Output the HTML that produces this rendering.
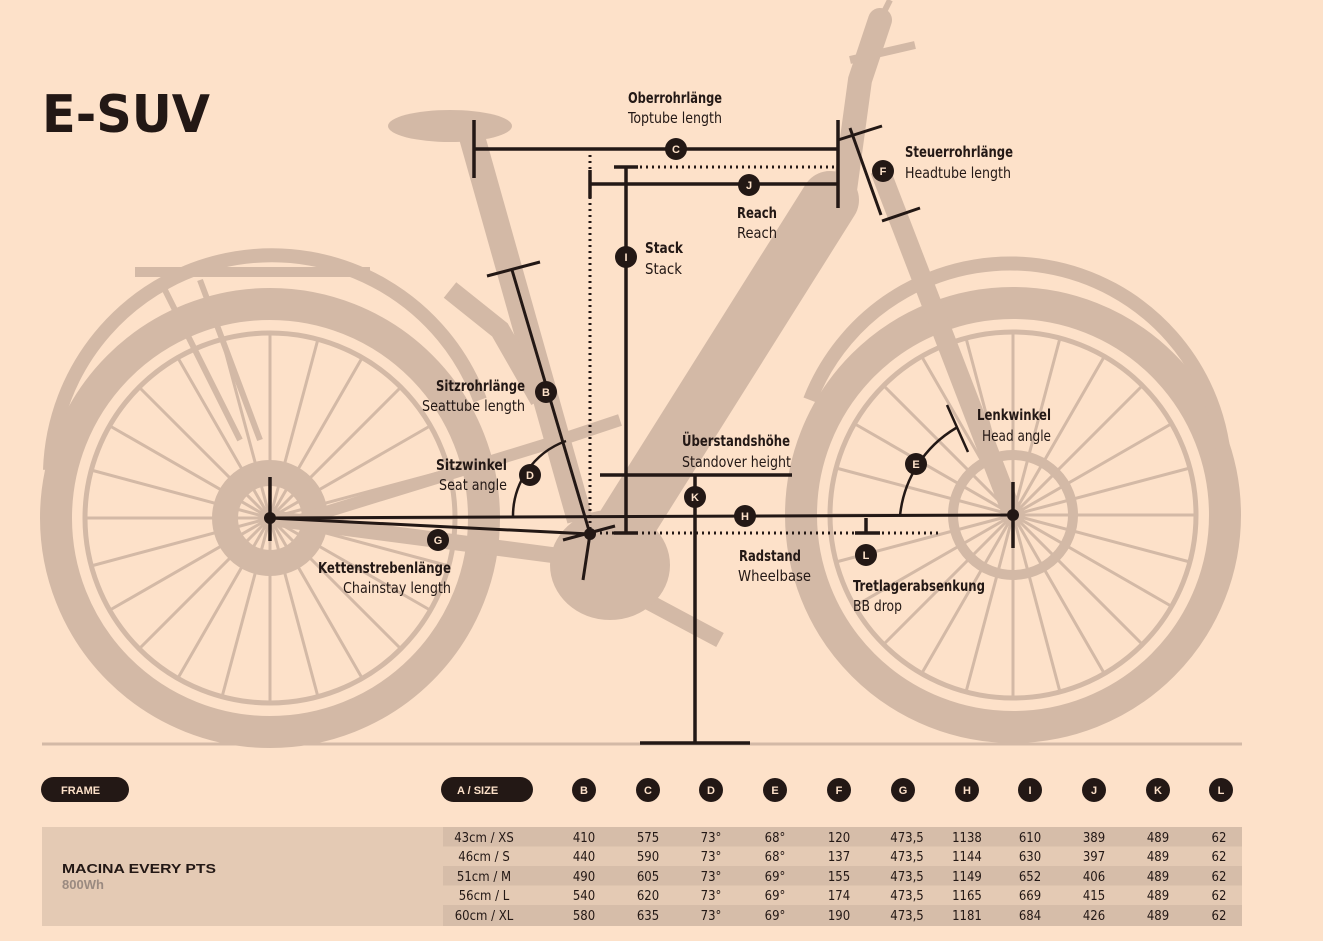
<!DOCTYPE html>
<html><head><meta charset="utf-8"><style>
html,body{margin:0;padding:0;background:#fde1c9;}
svg{display:block}
.b{font-family:"DejaVu Sans Condensed","Liberation Sans",sans-serif;font-weight:bold;font-size:15px;fill:#231815}
.r{font-family:"DejaVu Sans Condensed","Liberation Sans",sans-serif;font-size:15px;fill:#231815}
.t{font-family:"DejaVu Sans Condensed","Liberation Sans",sans-serif;font-size:13px;fill:#231815}
.cl{font-family:"Liberation Sans",sans-serif;font-weight:bold;font-size:11px;fill:#fde1c9}
</style></head><body>
<svg width="1323" height="941" viewBox="0 0 1323 941" xmlns="http://www.w3.org/2000/svg">
<rect width="1323" height="941" fill="#fde1c9"/>
<g fill="none" stroke="#d3b9a6">
 <circle cx="270" cy="518" r="214" stroke-width="32"/>
 <circle cx="1013" cy="515" r="212" stroke-width="32"/>
 <circle cx="270" cy="518" r="185" stroke-width="5"/>
 <circle cx="1013" cy="515" r="183" stroke-width="5"/>
 <g stroke-width="3">
  <path d="M270 518 L270 333 M270 518 L362 358 M270 518 L430 426 M270 518 L455 518 M270 518 L430 610 M270 518 L362 678 M270 518 L270 703 M270 518 L178 678 M270 518 L110 610 M270 518 L85 518 M270 518 L110 426 M270 518 L178 358 M270 518 L318 339 M270 518 L401 387 M270 518 L449 470 M270 518 L449 566 M270 518 L401 649 M270 518 L318 697 M270 518 L222 697 M270 518 L139 649 M270 518 L91 566 M270 518 L91 470 M270 518 L139 387 M270 518 L222 339"/>
  <path d="M1013 515 L1013 332 M1013 515 L1104 357 M1013 515 L1171 424 M1013 515 L1196 515 M1013 515 L1171 606 M1013 515 L1104 673 M1013 515 L1013 698 M1013 515 L922 673 M1013 515 L855 606 M1013 515 L830 515 M1013 515 L855 424 M1013 515 L922 357 M1013 515 L1060 338 M1013 515 L1142 386 M1013 515 L1190 468 M1013 515 L1190 562 M1013 515 L1142 644 M1013 515 L1060 692 M1013 515 L966 692 M1013 515 L884 644 M1013 515 L836 562 M1013 515 L836 468 M1013 515 L884 386 M1013 515 L966 338"/>
 </g>
 <circle cx="270" cy="518" r="45" stroke-width="26"/>
 <circle cx="1013" cy="515" r="60" stroke-width="10"/>
 <path d="M50 470 A222 222 0 0 1 480 400" stroke-width="14"/>
 <path d="M810 400 A215 215 0 0 1 1225 470" stroke-width="14"/>
 <path d="M135 272 L370 272" stroke-width="10"/>
 <path d="M160 280 L240 440 M200 280 L260 440" stroke-width="6"/>
 <path d="M830 200 L610 550" stroke-width="58" stroke-linecap="round"/>
 <path d="M470 130 L580 520" stroke-width="26"/>
 <path d="M300 520 L560 440 L620 420" stroke-width="12"/>
 <path d="M270 518 L590 560" stroke-width="16"/>
 <path d="M880 170 L1013 515" stroke-width="20"/>
 <path d="M845 190 L860 80 L880 20" stroke-width="24" stroke-linecap="round"/>
 <path d="M880 20 L890 0" stroke-width="6"/>
 <path d="M850 60 L915 45" stroke-width="8"/>
 <path d="M570 560 L720 640" stroke-width="16"/>
 <path d="M450 290 L500 330 L540 400" stroke-width="20"/>
</g>
<g fill="#d3b9a6">
 <ellipse cx="450" cy="126" rx="62" ry="16"/>
 <ellipse cx="610" cy="565" rx="60" ry="55"/>
</g>
<line x1="42" y1="744" x2="1242" y2="744" stroke="#d3b9a6" stroke-width="3"/>
<text x="42" y="132" font-family="DejaVu Sans Condensed,Liberation Sans,sans-serif" font-weight="bold" font-size="52" fill="#231815" textLength="168" lengthAdjust="spacingAndGlyphs">E-SUV</text>
<g stroke="#231815" stroke-width="3.5" fill="none">
 <path d="M474 120 V178 M474 149 H838 M838 120 V208"/>
 <path d="M590 170 V198 M590 184 H838"/>
 <path d="M614 167 H638 M626 167 V533 M614 533 H638"/>
 <path d="M850 128 L881 215 M838 140 L882 126 M882 221 L920 208" stroke-width="3"/>
 <path d="M487 276 L540 262 M512 270 L590 534" stroke-width="3"/>
 <path d="M600 475 H792 M695 475 V743 M640 743 H750"/>
 <path d="M270 518 L1013 515" stroke-width="3"/>
 <path d="M270 477 V541 M1013 482 V548"/>
 <path d="M270 518 L590 534 M563 540 L615 526 M590 534 L583 580" stroke-width="3"/>
 <path d="M855 533 H880 M866 518 V533"/>
 <path d="M513 518 A80 80 0 0 1 566 441" stroke-width="2.5"/>
 <path d="M900 516 A115 115 0 0 1 956 428 M947 405 L968 452" stroke-width="2.5"/>
</g>
<g stroke="#231815" stroke-width="3" stroke-dasharray="2 4" fill="none">
 <path d="M590 155 V533"/>
 <path d="M640 167 H838"/>
 <path d="M600 533 H940"/>
</g>
<g fill="#231815">
 <circle cx="270" cy="518" r="6"/><circle cx="1013" cy="515" r="6"/><circle cx="590" cy="534" r="6"/>
</g>
<g fill="#231815">
 <circle cx="676" cy="149" r="11"/><circle cx="749" cy="185" r="11"/><circle cx="626" cy="257" r="11"/>
 <circle cx="883" cy="171" r="11"/><circle cx="546" cy="392" r="11"/><circle cx="530" cy="475" r="11"/>
 <circle cx="695" cy="497" r="11"/><circle cx="745" cy="516" r="11"/><circle cx="916" cy="464" r="11"/>
 <circle cx="438" cy="540" r="11"/><circle cx="866" cy="555" r="11"/>
</g>
<g class="cl" text-anchor="middle">
 <text x="676" y="153">C</text><text x="749" y="189">J</text><text x="626" y="261">I</text>
 <text x="883" y="175">F</text><text x="546" y="396">B</text><text x="530" y="479">D</text>
 <text x="695" y="501">K</text><text x="745" y="520">H</text><text x="916" y="468">E</text>
 <text x="438" y="544">G</text><text x="866" y="559">L</text>
</g>
<g lengthAdjust="spacingAndGlyphs">
<text class="b" x="628" y="103" textLength="94" lengthAdjust="spacingAndGlyphs">Oberrohrlänge</text><text class="r" x="628" y="123" textLength="94" lengthAdjust="spacingAndGlyphs">Toptube length</text>
<text class="b" x="905" y="157" textLength="108" lengthAdjust="spacingAndGlyphs">Steuerrohrlänge</text><text class="r" x="905" y="178" textLength="106" lengthAdjust="spacingAndGlyphs">Headtube length</text>
<text class="b" x="737" y="218" textLength="40" lengthAdjust="spacingAndGlyphs">Reach</text><text class="r" x="737" y="238" textLength="40" lengthAdjust="spacingAndGlyphs">Reach</text>
<text class="b" x="645" y="253" textLength="38" lengthAdjust="spacingAndGlyphs">Stack</text><text class="r" x="645" y="274" textLength="37" lengthAdjust="spacingAndGlyphs">Stack</text>
<text class="b" x="436" y="391" textLength="89" lengthAdjust="spacingAndGlyphs">Sitzrohrlänge</text><text class="r" x="422" y="411" textLength="103" lengthAdjust="spacingAndGlyphs">Seattube length</text>
<text class="b" x="436" y="470" textLength="71" lengthAdjust="spacingAndGlyphs">Sitzwinkel</text><text class="r" x="439" y="490" textLength="68" lengthAdjust="spacingAndGlyphs">Seat angle</text>
<text class="b" x="682" y="446" textLength="108" lengthAdjust="spacingAndGlyphs">Überstandshöhe</text><text class="r" x="682" y="467" textLength="109" lengthAdjust="spacingAndGlyphs">Standover height</text>
<text class="b" x="977" y="420" textLength="74" lengthAdjust="spacingAndGlyphs">Lenkwinkel</text><text class="r" x="982" y="441" textLength="69" lengthAdjust="spacingAndGlyphs">Head angle</text>
<text class="b" x="318" y="573" textLength="133" lengthAdjust="spacingAndGlyphs">Kettenstrebenlänge</text><text class="r" x="343" y="593" textLength="108" lengthAdjust="spacingAndGlyphs">Chainstay length</text>
<text class="b" x="739" y="561" textLength="62" lengthAdjust="spacingAndGlyphs">Radstand</text><text class="r" x="738" y="581" textLength="73" lengthAdjust="spacingAndGlyphs">Wheelbase</text>
<text class="b" x="853" y="591" textLength="132" lengthAdjust="spacingAndGlyphs">Tretlagerabsenkung</text><text class="r" x="853" y="611" textLength="49" lengthAdjust="spacingAndGlyphs">BB drop</text>
</g>
<rect x="41" y="777" width="88" height="25" rx="12.5" fill="#231815"/>
<text x="61" y="794" class="cl" font-size="12">FRAME</text>
<rect x="441" y="777" width="92" height="25" rx="12.5" fill="#231815"/>
<text x="457" y="794" class="cl" font-size="12">A / SIZE</text>
<g fill="#231815">
 <circle cx="584" cy="790" r="12"/><circle cx="648" cy="790" r="12"/><circle cx="711" cy="790" r="12"/><circle cx="775" cy="790" r="12"/><circle cx="839" cy="790" r="12"/><circle cx="903" cy="790" r="12"/><circle cx="967" cy="790" r="12"/><circle cx="1030" cy="790" r="12"/><circle cx="1094" cy="790" r="12"/><circle cx="1158" cy="790" r="12"/><circle cx="1221" cy="790" r="12"/>
</g>
<g class="cl" text-anchor="middle">
 <text x="584" y="794">B</text><text x="648" y="794">C</text><text x="711" y="794">D</text><text x="775" y="794">E</text><text x="839" y="794">F</text><text x="903" y="794">G</text><text x="967" y="794">H</text><text x="1030" y="794">I</text><text x="1094" y="794">J</text><text x="1158" y="794">K</text><text x="1221" y="794">L</text>
</g>
<rect x="42" y="827" width="1200" height="99" fill="#e4cab4"/>
<rect x="443" y="827" width="799" height="19.5" fill="#d6bda9"/>
<rect x="443" y="866" width="799" height="19.5" fill="#d6bda9"/>
<rect x="443" y="905" width="799" height="21" fill="#d6bda9"/>
<text x="62" y="873" font-family="Liberation Sans,sans-serif" font-weight="bold" font-size="13" fill="#231815" textLength="154" lengthAdjust="spacingAndGlyphs">MACINA EVERY PTS</text>
<text x="62" y="889" font-family="Liberation Sans,sans-serif" font-weight="bold" font-size="13" fill="#9a8a80">800Wh</text>
<g class="t" text-anchor="middle">
 <text x="484" y="842">43cm / XS</text><text x="484" y="861">46cm / S</text><text x="484" y="881">51cm / M</text><text x="484" y="900">56cm / L</text><text x="484" y="920">60cm / XL</text>
 <text x="584" y="842">410</text><text x="584" y="861">440</text><text x="584" y="881">490</text><text x="584" y="900">540</text><text x="584" y="920">580</text>
 <text x="648" y="842">575</text><text x="648" y="861">590</text><text x="648" y="881">605</text><text x="648" y="900">620</text><text x="648" y="920">635</text>
 <text x="711" y="842">73°</text><text x="711" y="861">73°</text><text x="711" y="881">73°</text><text x="711" y="900">73°</text><text x="711" y="920">73°</text>
 <text x="775" y="842">68°</text><text x="775" y="861">68°</text><text x="775" y="881">69°</text><text x="775" y="900">69°</text><text x="775" y="920">69°</text>
 <text x="839" y="842">120</text><text x="839" y="861">137</text><text x="839" y="881">155</text><text x="839" y="900">174</text><text x="839" y="920">190</text>
 <text x="907" y="842">473,5</text><text x="907" y="861">473,5</text><text x="907" y="881">473,5</text><text x="907" y="900">473,5</text><text x="907" y="920">473,5</text>
 <text x="967" y="842">1138</text><text x="967" y="861">1144</text><text x="967" y="881">1149</text><text x="967" y="900">1165</text><text x="967" y="920">1181</text>
 <text x="1030" y="842">610</text><text x="1030" y="861">630</text><text x="1030" y="881">652</text><text x="1030" y="900">669</text><text x="1030" y="920">684</text>
 <text x="1094" y="842">389</text><text x="1094" y="861">397</text><text x="1094" y="881">406</text><text x="1094" y="900">415</text><text x="1094" y="920">426</text>
 <text x="1158" y="842">489</text><text x="1158" y="861">489</text><text x="1158" y="881">489</text><text x="1158" y="900">489</text><text x="1158" y="920">489</text>
 <text x="1219" y="842">62</text><text x="1219" y="861">62</text><text x="1219" y="881">62</text><text x="1219" y="900">62</text><text x="1219" y="920">62</text>
</g>
</svg>
</body></html>
